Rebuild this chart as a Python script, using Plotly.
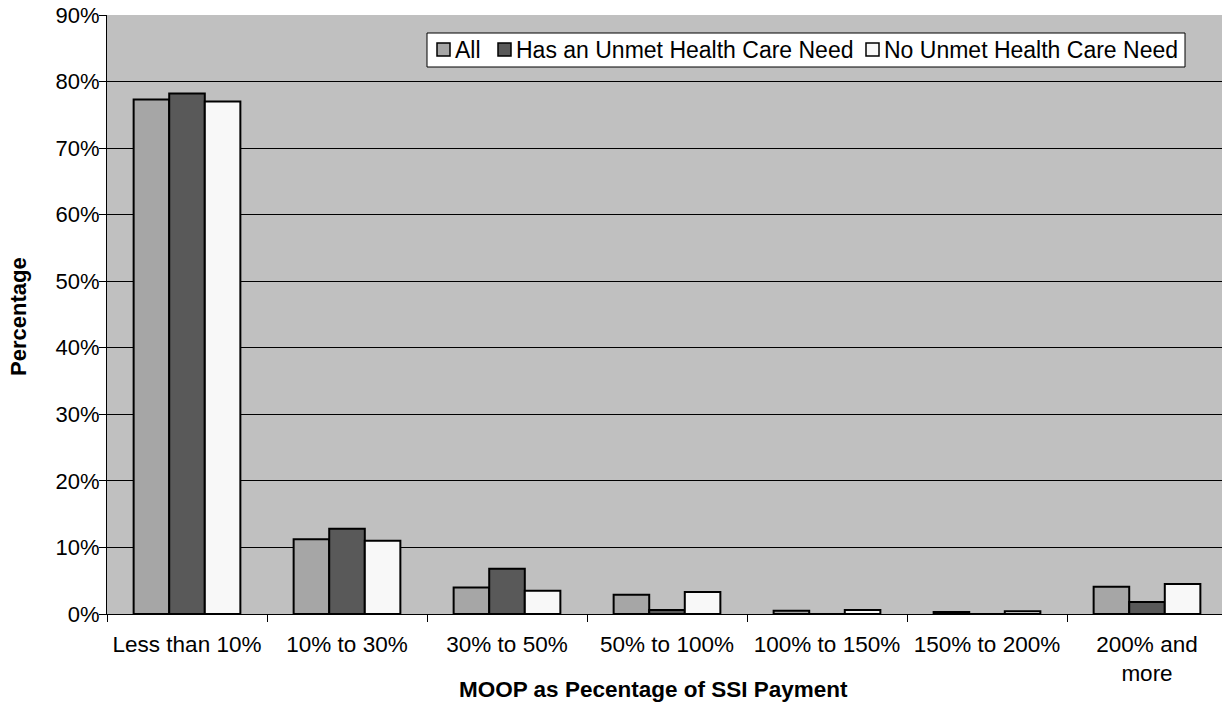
import plotly.graph_objects as go

# Share of SSI recipients by MOOP as a percentage of SSI payment
categories = ["Less than 10%", "10% to 30%", "30% to 50%", "50% to 100%",
              "100% to 150%", "150% to 200%", "200% and<br>more"]
all_pct = [77.3, 11.25, 4.0, 2.9, 0.5, 0.3, 4.1]
unmet_pct = [78.2, 12.8, 6.8, 0.6, 0.0, 0.0, 1.8]
no_unmet_pct = [77.0, 11.0, 3.5, 3.3, 0.6, 0.4, 4.5]

series_names = ["All", "Has an Unmet Health Care Need", "No Unmet Health Care Need"]
series_values = [all_pct, unmet_pct, no_unmet_pct]
series_colors = ["#a6a6a6", "#595959", "#f8f8f8"]

FONT = "Liberation Sans, Arial, sans-serif"
W, H = 1222, 708
L, R, T, B = 107, 0, 15, 94
PW, PH = W - L - R, H - T - B


def px_x(px):
    return (px - L) / PW


def px_y(py):
    return (H - B - py) / PH


fig = go.Figure()
for name, vals, color in zip(series_names, series_values, series_colors):
    fig.add_trace(go.Bar(
        x=categories, y=vals, name=name, showlegend=False,
        marker=dict(color=color, line=dict(color="#000000", width=2)),
    ))

fig.update_layout(
    width=W, height=H,
    margin=dict(l=L, r=R, t=T, b=B),
    paper_bgcolor="white",
    plot_bgcolor="#c0c0c0",
    barmode="group",
    bargap=0.333, bargroupgap=0,
    font=dict(family=FONT, size=22, color="#000000"),
)

fig.update_xaxes(
    range=[-0.5, 6.5 - 5 / 160],
    showline=True, linecolor="#000000", linewidth=1,
    ticks="outside", tickson="boundaries", ticklen=7, tickcolor="#000000",
    tickfont=dict(size=22.5), ticklabelstandoff=10,
    showgrid=False,
)
fig.update_yaxes(
    range=[0, 90], dtick=10, ticksuffix="%",
    showline=True, linecolor="#000000", linewidth=1,
    ticks="outside", ticklen=7, tickcolor="#000000",
    showgrid=True, gridcolor="#000000", gridwidth=1,
    tickfont=dict(size=22), ticklabelstandoff=-5,
    zeroline=False,
)

# Legend box drawn in the upper right of the plot area
fig.add_shape(type="rect", xref="paper", yref="paper",
              x0=px_x(427), x1=px_x(1185), y0=px_y(67), y1=px_y(33),
              fillcolor="white", line=dict(color="#000000", width=1))
legend_square_x = [437, 498, 866]
legend_text_x = [453, 514, 882]
for name, color, sx, tx in zip(series_names, series_colors, legend_square_x, legend_text_x):
    fig.add_shape(type="rect", xref="paper", yref="paper",
                  x0=px_x(sx), x1=px_x(sx + 13), y0=px_y(56), y1=px_y(43),
                  fillcolor=color, line=dict(color="#000000", width=1.5))
    fig.add_annotation(text=name, xref="paper", yref="paper",
                       x=px_x(tx), y=px_y(50), xanchor="left", yanchor="middle",
                       showarrow=False, font=dict(size=23))

fig.add_annotation(
    text="<b>MOOP as Pecentage of SSI Payment</b>",
    xref="paper", yref="paper", x=px_x(653), y=px_y(689),
    xanchor="center", yanchor="middle", showarrow=False,
    font=dict(size=22.5),
)
fig.add_annotation(
    text="<b>Percentage</b>",
    xref="paper", yref="paper", x=px_x(18), y=px_y(317),
    xanchor="center", yanchor="middle", showarrow=False, textangle=-90,
    font=dict(size=22),
)

fig.write_html("out.html")
